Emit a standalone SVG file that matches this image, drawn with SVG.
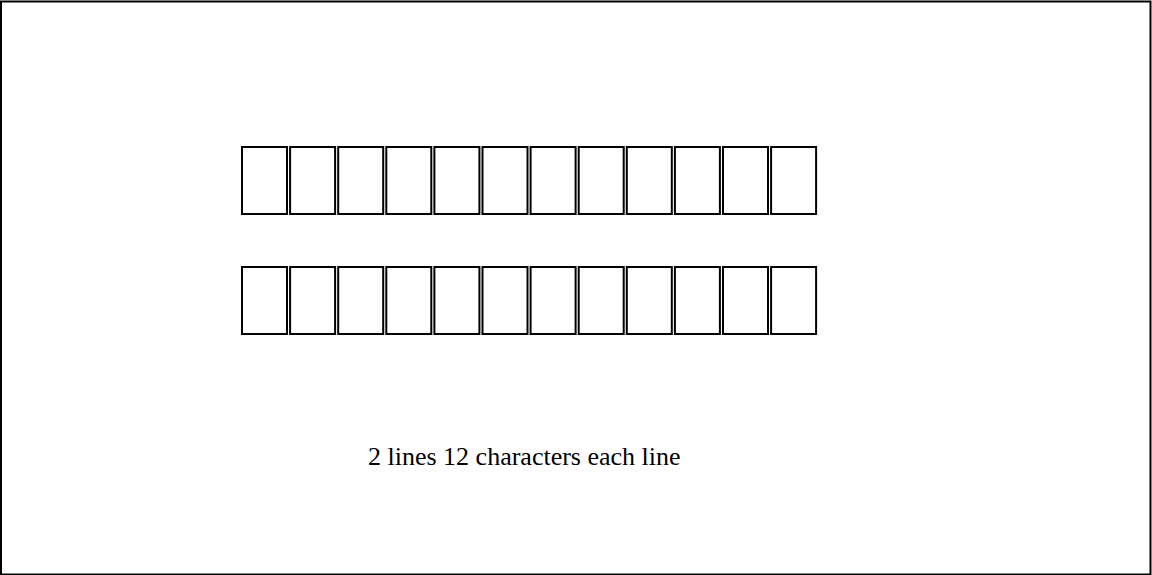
<svg xmlns="http://www.w3.org/2000/svg" width="1152" height="575" viewBox="0 0 1152 575">
<style>
.cell{fill:#fff;stroke:#000;stroke-width:2}
.lbl{font-family:"Liberation Serif","Times New Roman",serif;font-size:26px;fill:#000}
</style>
<rect x="0" y="0" width="1152" height="575" fill="#fff"/>
<rect x="1" y="1.5" width="1149.5" height="573" fill="none" stroke="#000" stroke-width="2"/>
<g id="row1">
<rect class="cell" x="242" y="147" width="45" height="67"/>
<rect class="cell" x="290.1" y="147" width="45" height="67"/>
<rect class="cell" x="338.2" y="147" width="45" height="67"/>
<rect class="cell" x="386.3" y="147" width="45" height="67"/>
<rect class="cell" x="434.4" y="147" width="45" height="67"/>
<rect class="cell" x="482.5" y="147" width="45" height="67"/>
<rect class="cell" x="530.6" y="147" width="45" height="67"/>
<rect class="cell" x="578.7" y="147" width="45" height="67"/>
<rect class="cell" x="626.8" y="147" width="45" height="67"/>
<rect class="cell" x="674.9" y="147" width="45" height="67"/>
<rect class="cell" x="723" y="147" width="45" height="67"/>
<rect class="cell" x="771.1" y="147" width="45" height="67"/>
</g>
<g id="row2">
<rect class="cell" x="242" y="267" width="45" height="67"/>
<rect class="cell" x="290.1" y="267" width="45" height="67"/>
<rect class="cell" x="338.2" y="267" width="45" height="67"/>
<rect class="cell" x="386.3" y="267" width="45" height="67"/>
<rect class="cell" x="434.4" y="267" width="45" height="67"/>
<rect class="cell" x="482.5" y="267" width="45" height="67"/>
<rect class="cell" x="530.6" y="267" width="45" height="67"/>
<rect class="cell" x="578.7" y="267" width="45" height="67"/>
<rect class="cell" x="626.8" y="267" width="45" height="67"/>
<rect class="cell" x="674.9" y="267" width="45" height="67"/>
<rect class="cell" x="723" y="267" width="45" height="67"/>
<rect class="cell" x="771.1" y="267" width="45" height="67"/>
</g>
<g id="caption">
<text class="lbl" x="368" y="465">2 lines 12 characters each line</text>
</g>
</svg>
